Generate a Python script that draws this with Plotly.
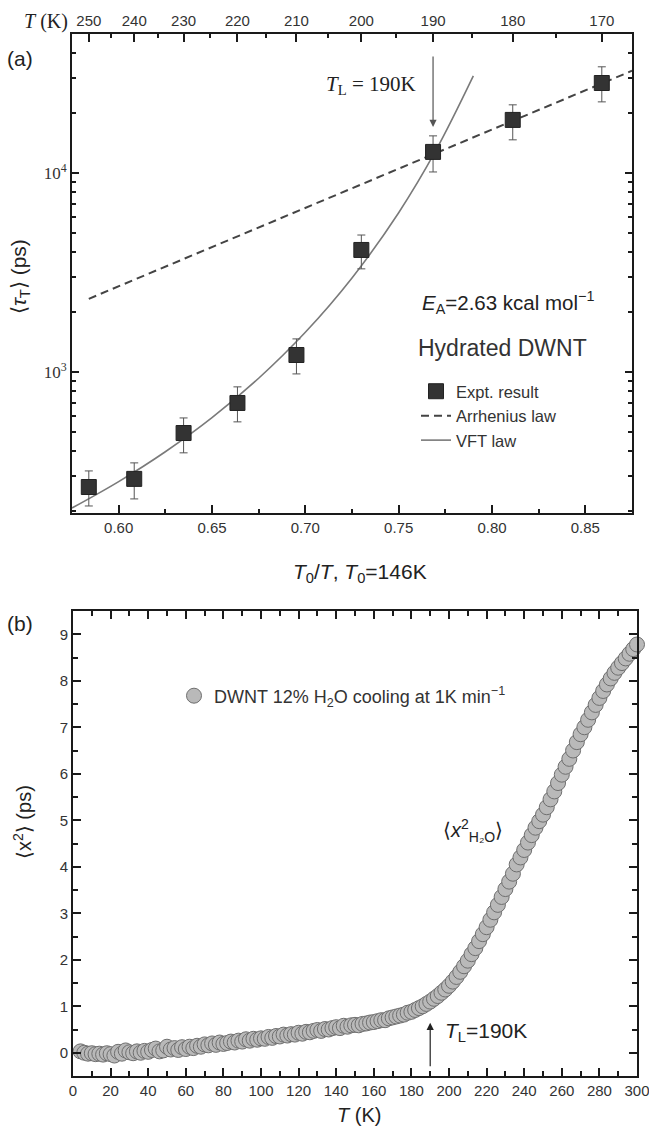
import math
import plotly.graph_objects as go

# ---------------- data: panel (a) ----------------
T0 = 146
exp_T = [250, 240, 230, 220, 210, 200, 190, 180, 170]
exp_tau = [264, 290, 493, 698, 1216, 4100, 12750, 18460, 28300]
exp_tau_hi = [318, 349, 587, 841, 1465, 4874, 15350, 21980, 34130]
exp_tau_lo = [212, 230, 392, 561, 977, 3295, 10110, 14660, 22750]

arr_x = [0.584, 0.875]
arr_tau = [2330, 32600]

vft_x = [0.575, 0.60, 0.625, 0.65, 0.675, 0.70, 0.725, 0.75, 0.77, 0.79]
vft_tau = [207, 281, 397, 589, 929, 1581, 2965, 6310, 13000, 30700]

top_T = [250, 240, 230, 220, 210, 200, 190, 180, 170]
top_T_minor = [245, 235, 225, 215, 205, 195, 185, 175]
xa_ticks = [0.60, 0.65, 0.70, 0.75, 0.80, 0.85]
ya_major = [1000, 10000]
ya_minor = [200, 300, 400, 500, 600, 700, 800, 900,
            2000, 3000, 4000, 5000, 6000, 7000, 8000, 9000,
            20000, 30000, 40000]
TL_tip_tau = 17000
TL = 190

# ---------------- data: panel (b) ----------------
msd_T = list(range(4, 301, 2))
msd = [0.03, 0.00, -0.02, -0.01, -0.03, -0.02, -0.04, -0.01, -0.03, -0.06,
       0.02, -0.02, 0.05, 0.01, -0.01, 0.03, 0.00, 0.04, 0.02, 0.06,
       0.09, 0.03, 0.05, 0.13, 0.07, 0.10, 0.06, 0.12, 0.08, 0.13,
       0.10, 0.15, 0.13, 0.18, 0.16, 0.20, 0.17, 0.22, 0.19, 0.21,
       0.24, 0.22, 0.26, 0.24, 0.29, 0.26, 0.30, 0.28, 0.31, 0.30,
       0.34, 0.32, 0.36, 0.35, 0.39, 0.37, 0.40, 0.39, 0.43, 0.41,
       0.45, 0.44, 0.47, 0.49, 0.47, 0.51, 0.50, 0.53, 0.55, 0.53,
       0.58, 0.56, 0.59, 0.60, 0.59, 0.62, 0.63, 0.65, 0.66, 0.68,
       0.70, 0.70, 0.74, 0.76, 0.78, 0.80, 0.82, 0.86, 0.88, 0.92,
       0.96, 1.00, 1.05, 1.10, 1.16, 1.22, 1.29, 1.36, 1.44, 1.53,
       1.63, 1.74, 1.86, 1.98, 2.12, 2.25, 2.40, 2.55, 2.70, 2.86,
       3.02, 3.18, 3.35, 3.52, 3.68, 3.85, 4.05, 4.20, 4.36, 4.52,
       4.68, 4.84, 4.98, 5.12, 5.28, 5.45, 5.62, 5.80, 5.98, 6.15,
       6.32, 6.50, 6.68, 6.85, 7.00, 7.16, 7.32, 7.48, 7.63, 7.78,
       7.92, 8.05, 8.17, 8.28, 8.38, 8.48, 8.58, 8.68, 8.78]
TL_b_tip = 0.645

# ---------------- figure ----------------
W, H = 649, 1128
SANS = "Liberation Sans, Arial, sans-serif"
SERIF = "Liberation Serif, Times New Roman, serif"

def px(x):
    return x / W

def py(y):
    return 1 - y / H

exp_x = [T0 / t for t in exp_T]

fig = go.Figure()

fig.add_trace(go.Scatter(
    x=arr_x, y=arr_tau, mode="lines", name="Arrhenius law",
    line=dict(color="#444444", width=2, dash="8px,5px"),
    xaxis="x", yaxis="y", legend="legend", legendrank=2))
fig.add_trace(go.Scatter(
    x=vft_x, y=vft_tau, mode="lines", name="VFT law",
    line=dict(color="#7a7a7a", width=1.6, shape="spline"),
    xaxis="x", yaxis="y", legend="legend", legendrank=3))
fig.add_trace(go.Scatter(
    x=exp_x, y=exp_tau, mode="markers", name="Expt. result",
    marker=dict(symbol="square", size=15, color="#333333",
                line=dict(color="#222222", width=1)),
    error_y=dict(type="data", symmetric=False,
                 array=[h - v for h, v in zip(exp_tau_hi, exp_tau)],
                 arrayminus=[v - l for v, l in zip(exp_tau, exp_tau_lo)],
                 color="#555555", thickness=1, width=4),
    xaxis="x", yaxis="y", legend="legend", legendrank=1))
# invisible trace to carry the top temperature axis
fig.add_trace(go.Scatter(
    x=exp_x, y=exp_tau, mode="markers", marker=dict(opacity=0),
    showlegend=False, hoverinfo="skip", xaxis="x3", yaxis="y"))

fig.add_trace(go.Scatter(
    x=msd_T, y=msd, mode="markers",
    name="DWNT 12% H<sub>2</sub>O cooling at 1K min<sup>\u22121</sup>",
    marker=dict(symbol="circle", size=15, color="#b9b9b9",
                line=dict(color="#6f6f6f", width=1)),
    cliponaxis=False, xaxis="x2", yaxis="y2", legend="legend2"))

axis_common = dict(showline=True, linecolor="#1a1a1a", linewidth=2,
                   ticks="inside", tickcolor="#1a1a1a", showgrid=False,
                   zeroline=False, ticklabeloverflow="allow",
                   automargin=False,
                   tickfont=dict(family=SANS, size=15, color="#333333"))

fig.update_layout(
    width=W, height=H, margin=dict(l=0, r=0, t=0, b=0, autoexpand=False),
    paper_bgcolor="white", plot_bgcolor="white",
    xaxis=dict(domain=[px(72), px(632)], anchor="y", range=[0.575, 0.875],
               tickmode="array", tickvals=xa_ticks,
               ticktext=["%.2f" % v for v in xa_ticks],
               ticklen=8, tickwidth=1.5, mirror=True,
               minor=dict(dtick=0.025, tick0=0.6, ticks="inside", ticklen=4,
                          tickwidth=1.5, tickcolor="#1a1a1a"),
               **axis_common),
    yaxis=dict(domain=[py(513), py(34)], anchor="x", type="log",
               range=[2.291, 4.698], tickmode="array", tickvals=ya_major,
               ticktext=["10<sup>3</sup>", "10<sup>4</sup>"],
               ticklen=7, tickwidth=1.5, mirror="ticks",
               minor=dict(tickmode="array", tickvals=ya_minor, ticks="inside",
                          ticklen=4, tickwidth=1.5, tickcolor="#1a1a1a"),
               **{**axis_common,
                  "tickfont": dict(family=SERIF, size=17, color="#333333")}),
    xaxis3=dict(overlaying="x", anchor="y", side="top", range=[0.575, 0.875],
                tickmode="array", tickvals=[T0 / t for t in top_T],
                ticktext=[str(t) for t in top_T],
                ticklen=8, tickwidth=1.5,
                minor=dict(tickmode="array",
                           tickvals=[T0 / t for t in top_T_minor],
                           ticks="inside", ticklen=4, tickwidth=1.5,
                           tickcolor="#1a1a1a"),
                **axis_common),
    xaxis2=dict(domain=[px(73), px(637)], anchor="y2", range=[0, 300],
                dtick=20, tick0=0, ticklen=8, tickwidth=2, mirror="ticks",
                minor=dict(dtick=10, ticks="inside", ticklen=5, tickwidth=2,
                           tickcolor="#1a1a1a"),
                **axis_common),
    yaxis2=dict(domain=[py(1076), py(611)], anchor="x2", range=[-0.5, 9.5],
                dtick=1, tick0=0, ticklen=8, tickwidth=2, mirror="ticks",
                minor=dict(dtick=0.5, ticks="inside", ticklen=5, tickwidth=2,
                           tickcolor="#1a1a1a"),
                **axis_common),
    legend=dict(x=px(416), y=py(374), xanchor="left", yanchor="top",
                bgcolor="rgba(0,0,0,0)", tracegroupgap=0,
                font=dict(family=SANS, size=16.5, color="#333333"),
                itemsizing="trace", traceorder="normal"),
    legend2=dict(x=px(174), y=py(696), xanchor="left", yanchor="middle",
                 bgcolor="rgba(0,0,0,0)",
                 font=dict(family=SANS, size=18, color="#333333")),
    showlegend=True,
)

ann = []
def text(x, y, s, size, family=SANS, xanchor="center", angle=0, color="#222222"):
    ann.append(dict(x=px(x), y=py(y), xref="paper", yref="paper", text=s,
                    showarrow=False, xanchor=xanchor, yanchor="middle",
                    textangle=angle,
                    font=dict(family=family, size=size, color=color)))

text(20, 58, "(a)", 21, xanchor="center")
text(20, 623, "(b)", 21, xanchor="center")
text(70, 22, "<i>T</i> (K)", 20, family=SERIF, xanchor="right")
text(418, 85, "<i>T</i><sub>L</sub> = 190K", 21, family=SERIF, xanchor="right")
text(420, 303, "<i>E</i><sub>A</sub>=2.63 kcal mol<sup>\u22121</sup>", 20.5, xanchor="left")
text(502, 348, "Hydrated DWNT", 23, color="#333333")
text(360, 573, "<i>T</i><sub>0</sub>/<i>T</i>, <i>T</i><sub>0</sub>=146K", 21)
text(20, 277, "\u27e8<i>\u03c4</i><sub>T</sub>\u27e9 (ps)", 21, angle=-90)
text(22, 822, "\u27e8x<sup>2</sup>\u27e9 (ps)", 20, angle=-90)
text(359, 1115, "<i>T</i> (K)", 20)
text(443, 1032, "<i>T</i><sub>L</sub>=190K", 21, xanchor="left")
text(473, 830, "\u27e8<i>x</i><sup>2</sup><sub>H\u2082O</sub>\u27e9", 20)

# arrows
ann.append(dict(x=T0 / TL, y=math.log10(TL_tip_tau), xref="x", yref="y",
                ax=0, ay=-72, text="", showarrow=True, arrowhead=2,
                arrowsize=1.2, arrowwidth=1.2, arrowcolor="#555555"))
ann.append(dict(x=TL, y=TL_b_tip, xref="x2", yref="y2",
                ax=0, ay=45, text="", showarrow=True, arrowhead=2,
                arrowsize=1.2, arrowwidth=1.2, arrowcolor="#222222"))
fig.update_layout(annotations=ann)

fig.write_html("out.html")
